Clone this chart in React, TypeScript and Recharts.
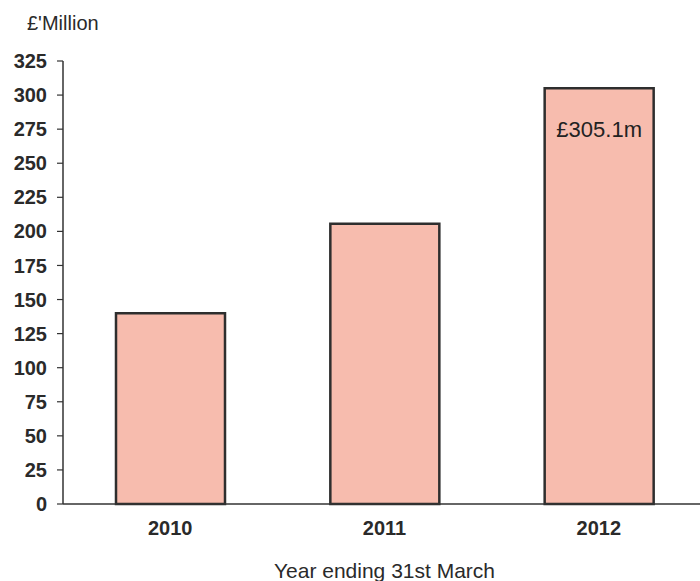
import { BarChart, Bar, XAxis, YAxis, LabelList } from 'recharts';

const years = ['2010', '2011', '2012'];
const revenue = [140, 205.6, 305.1];
const barLabels = ['', '', '£305.1m'];
const yTicks = [0, 25, 50, 75, 100, 125, 150, 175, 200, 225, 250, 275, 300, 325];

const data = years.map((year, i) => ({ year, revenue: revenue[i], label: barLabels[i] }));

const font = 'Arial, "Liberation Sans", sans-serif';

export default function App() {
  return (
    <div style={{ position: 'absolute', left: 0, top: 0, width: 700, height: 581, overflow: 'hidden', background: '#fff', fontFamily: font }}>
      <div style={{ position: 'absolute', left: 27, top: 12, fontSize: 20, color: '#2a2a2a' }}>£'Million</div>
      <BarChart width={710} height={581} data={data} margin={{ top: 61, right: 4, left: 0, bottom: 0 }}>
        <XAxis
          dataKey="year"
          height={77}
          axisLine={{ stroke: '#333', strokeWidth: 1.5 }}
          tickLine={false}
          tickSize={0}
          tickMargin={17}
          tick={{ fontSize: 20, fontWeight: 'bold', fill: '#2a2a2a', fontFamily: font }}
          label={{ value: 'Year ending 31st March', position: 'insideBottom', offset: 3, fontSize: 21, fill: '#2a2a2a', fontFamily: font }}
        />
        <YAxis
          width={63}
          domain={[0, 325]}
          ticks={yTicks}
          interval={0}
          axisLine={{ stroke: '#333', strokeWidth: 1.5 }}
          tickLine={{ stroke: '#333', strokeWidth: 1.2 }}
          tickSize={6}
          tickMargin={10}
          tick={{ fontSize: 20, fontWeight: 'bold', fill: '#2a2a2a', fontFamily: font }}
        />
        <Bar dataKey="revenue" fill="#f7bcae" stroke="#2e2e2e" strokeWidth={2.5} barSize={109} isAnimationActive={false}>
          <LabelList dataKey="label" position="insideTop" offset={33} fontSize={22} fill="#222" fontFamily={font} />
        </Bar>
      </BarChart>
    </div>
  );
}
